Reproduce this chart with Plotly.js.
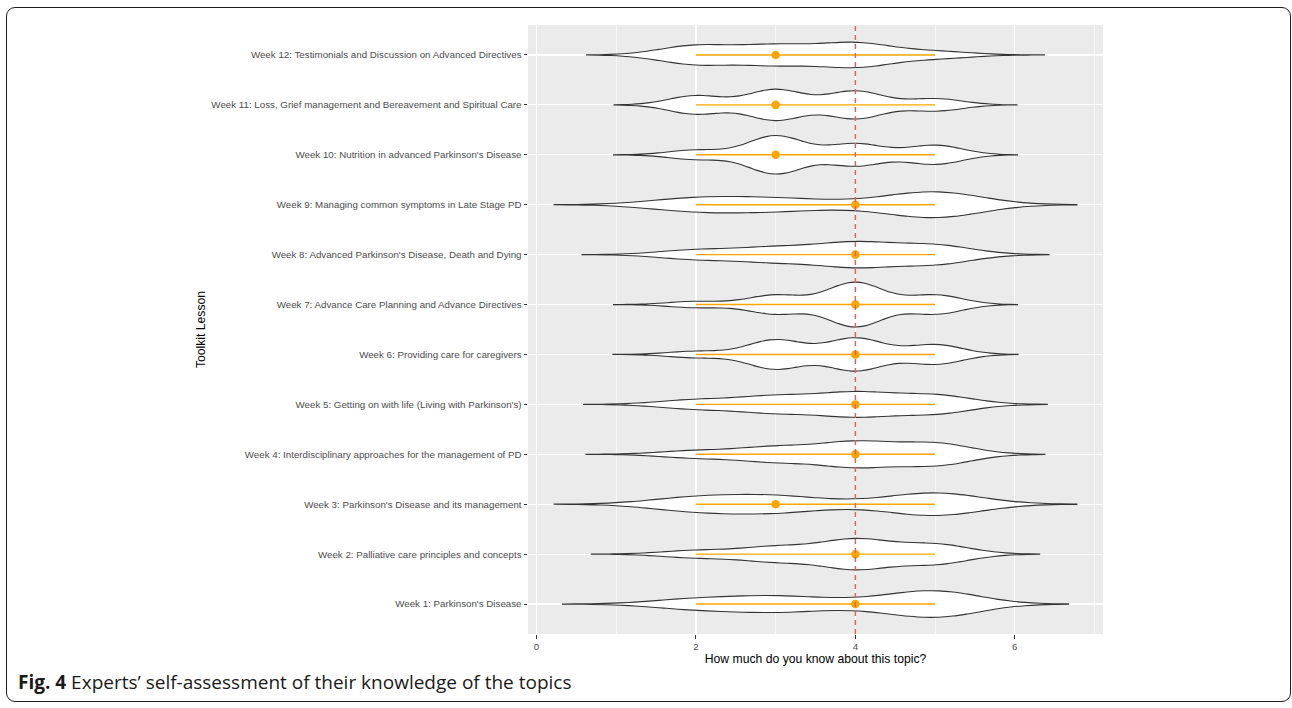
<!DOCTYPE html>
<html>
<head>
<meta charset="utf-8">
<script src="https://cdn.plot.ly/plotly-3.0.1.min.js"></script>
<style>
  html, body { margin: 0; padding: 0; background: #ffffff; }
  #chart { position: absolute; left: 0; top: 0; width: 1292px; height: 708px; }
  #frame {
    position: absolute; left: 6px; top: 7px; width: 1285px; height: 695px;
    border: 1.6px solid #1d1d1d; border-radius: 9px; box-sizing: border-box;
    pointer-events: none;
  }
</style>
</head>
<body>
<div id="chart"></div>
<div id="frame"></div>
<script>
// Toolkit lessons, bottom to top
const lessonLabels = [
  "Week 1: Parkinson's Disease",
  "Week 2: Palliative care principles and concepts",
  "Week 3: Parkinson's Disease and its management",
  "Week 4: Interdisciplinary approaches for the management of PD",
  "Week 5: Getting on with life (Living with Parkinson's)",
  "Week 6: Providing care for caregivers",
  "Week 7: Advance Care Planning and Advance Directives",
  "Week 8: Advanced Parkinson's Disease, Death and Dying",
  "Week 9: Managing common symptoms in Late Stage PD",
  "Week 10: Nutrition in advanced Parkinson's Disease",
  "Week 11: Loss, Grief management and Bereavement and Spiritual Care",
  "Week 12: Testimonials and Discussion on Advanced Directives"
];

// Self-assessment scores given by the experts
const ratingScale = [2, 3, 4, 5];

// Number of experts choosing each score (same order as ratingScale)
const week1Counts  = [5, 7, 3, 13];
const week2Counts  = [3, 6, 12, 8];
const week3Counts  = [7, 8, 1, 12];
const week4Counts  = [3, 6, 10, 9];
const week5Counts  = [4, 7, 10, 8];
const week6Counts  = [2, 9, 10, 6];
const week7Counts  = [2, 6, 14, 6];
const week8Counts  = [4, 6, 10, 8];
const week9Counts  = [7, 6, 2, 14];
const week10Counts = [3, 12, 7, 6];
const week11Counts = [6, 10, 9, 4];
const week12Counts = [8, 8, 10, 3];

const xTickValues = [0, 2, 4, 6];
const referenceRating = 4;

const captionLead = "Fig. 4";
const captionText = "Experts\u2019 self-assessment of their knowledge of the topics";

const weeklyCounts = [
  week1Counts, week2Counts, week3Counts, week4Counts, week5Counts, week6Counts,
  week7Counts, week8Counts, week9Counts, week10Counts, week11Counts, week12Counts
];

// ---- helpers -------------------------------------------------------------
function expandResponses(counts) {
  const out = [];
  counts.forEach((c, i) => { for (let k = 0; k < c; k++) out.push(ratingScale[i]); });
  return out;
}
function quantile(sorted, p) {
  const h = (sorted.length - 1) * p;
  const lo = Math.floor(h);
  const hi = Math.min(lo + 1, sorted.length - 1);
  return sorted[lo] + (h - lo) * (sorted[hi] - sorted[lo]);
}
// Silverman's rule of thumb (0.9 variant)
function bandwidthNrd0(values) {
  const n = values.length;
  const mean = values.reduce((a, b) => a + b, 0) / n;
  const sd = Math.sqrt(values.reduce((a, b) => a + (b - mean) * (b - mean), 0) / (n - 1));
  const s = values.slice().sort((a, b) => a - b);
  const iqr = quantile(s, 0.75) - quantile(s, 0.25);
  let lo = Math.min(sd, iqr / 1.34);
  if (!(lo > 0)) lo = sd || Math.abs(s[0]) || 1;
  return 0.9 * lo * Math.pow(n, -0.2);
}

// ---- traces --------------------------------------------------------------
const violinTraces = [];
const rangeX = [], rangeY = [], medX = [], medY = [];
let spanLo = Infinity, spanHi = -Infinity;

weeklyCounts.forEach((counts, i) => {
  const label = lessonLabels[i];
  const values = expandResponses(counts);
  const sorted = values.slice().sort((a, b) => a - b);
  const bw = bandwidthNrd0(values);
  const vMin = sorted[0], vMax = sorted[sorted.length - 1];
  const span = [vMin - 3 * bw, vMax + 3 * bw];
  spanLo = Math.min(spanLo, span[0]);
  spanHi = Math.max(spanHi, span[1]);

  violinTraces.push({
    type: 'violin',
    orientation: 'h',
    x: values,
    y: values.map(() => label),
    bandwidth: bw,
    spanmode: 'manual',
    span: span,
    scalegroup: 'lessons',
    scalemode: 'width',
    side: 'both',
    points: false,
    box: { visible: false },
    meanline: { visible: false },
    fillcolor: '#ffffff',
    line: { color: '#333333', width: 1.1 },
    hoverinfo: 'skip',
    showlegend: false
  });

  rangeX.push(vMin, vMax, null);
  rangeY.push(label, label, null);
  medX.push(quantile(sorted, 0.5));
  medY.push(label);
});

const rangeTrace = {
  type: 'scatter', mode: 'lines', x: rangeX, y: rangeY,
  line: { color: '#FFA500', width: 1.4 }, hoverinfo: 'skip', showlegend: false
};
const medianTrace = {
  type: 'scatter', mode: 'markers', x: medX, y: medY,
  marker: { color: '#FFA500', size: 8.5, line: { width: 0 } },
  hoverinfo: 'skip', showlegend: false
};

const pad = 0.05 * (spanHi - spanLo);

// plot-area geometry in pixels, used to place the caption
const M = { l: 528, r: 189, t: 25, b: 74 };
const W = 1292, H = 708;
const pxToPaperX = px => (px - M.l) / (W - M.l - M.r);
const pxToPaperY = py => (H - M.b - py) / (H - M.t - M.b);

const axisFont = { family: '"Liberation Sans", Arial, Helvetica, sans-serif', size: 9.75, color: '#4D4D4D' };
const titleFont = { family: '"Liberation Sans", Arial, Helvetica, sans-serif', size: 12.2, color: '#000000' };

const layout = {
  width: W, height: H,
  margin: { l: M.l, r: M.r, t: M.t, b: M.b, pad: 0 },
  paper_bgcolor: '#ffffff',
  plot_bgcolor: '#EBEBEB',
  showlegend: false,
  hovermode: false,
  violinmode: 'overlay',
  violingap: 0.1,
  violingroupgap: 0,
  font: { family: '"Liberation Sans", Arial, Helvetica, sans-serif' },
  xaxis: {
    range: [spanLo - pad, spanHi + pad],
    tickmode: 'array', tickvals: xTickValues, ticktext: xTickValues.map(String),
    ticks: 'outside', ticklen: 3.5, tickwidth: 1, tickcolor: '#333333',
    tickfont: axisFont,
    showgrid: true, gridcolor: '#ffffff', gridwidth: 1.2,
    minor: { dtick: 1, tick0: 0, showgrid: true, gridcolor: '#ffffff', gridwidth: 0.6, ticks: '' },
    zeroline: false, showline: false,
    automargin: false,
    title: { text: 'How much do you know about this topic?', font: titleFont, standoff: 2 }
  },
  yaxis: {
    type: 'category', categoryorder: 'array', categoryarray: lessonLabels,
    range: [-0.6, lessonLabels.length - 0.4],
    ticks: 'outside', ticklen: 3.5, tickwidth: 1, tickcolor: '#333333',
    tickfont: axisFont,
    showgrid: true, gridcolor: '#ffffff', gridwidth: 1.2,
    zeroline: false, showline: false,
    automargin: false,
    title: { text: 'Toolkit Lesson', font: titleFont, standoff: 3 }
  },
  shapes: [{
    type: 'line', xref: 'x', yref: 'paper',
    x0: referenceRating, x1: referenceRating, y0: 0, y1: 1,
    line: { color: '#E5625C', width: 1.4, dash: '5px,4px' },
    layer: 'above'
  }],
  annotations: [{
    xref: 'paper', yref: 'paper',
    x: pxToPaperX(16), y: pxToPaperY(682),
    xanchor: 'left', yanchor: 'middle',
    showarrow: false,
    text: '<b>' + captionLead + '</b> ' + captionText,
    font: { family: '"Open Sans", "Noto Sans", sans-serif', size: 19, color: '#1a1a1a' }
  }]
};

Plotly.newPlot('chart', violinTraces.concat([rangeTrace, medianTrace]), layout,
  { staticPlot: true, displayModeBar: false });
</script>
</body>
</html>
